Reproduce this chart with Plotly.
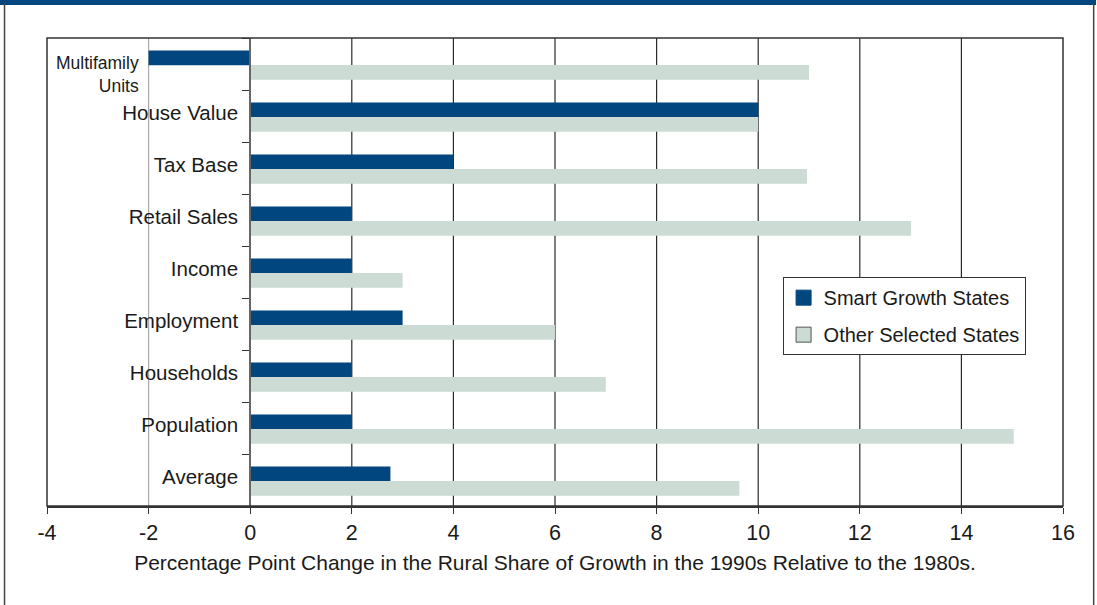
import plotly.graph_objects as go

# Rural share of growth, 1990s vs 1980s (percentage points)
categories = ["Multifamily Units", "House Value", "Tax Base", "Retail Sales",
              "Income", "Employment", "Households", "Population", "Average"]
smart_growth = [-2, 10, 4, 2, 2, 3, 2, 2, 2.76]
other_states = [11, 10, 10.96, 13.01, 3, 6, 7, 15.03, 9.63]

series_names = ["Smart Growth States", "Other Selected States"]
x_ticks = list(range(-4, 17, 2))

DARK = "#02467f"
LIGHT = "#ccdbd3"
FONT = "Liberation Sans"

fig = go.Figure()

fig.add_trace(go.Bar(
    y=categories, x=smart_growth, orientation="h",
    marker=dict(color=DARK, line=dict(width=0)),
    offset=-0.26, width=0.283, showlegend=False, name=series_names[0],
))
fig.add_trace(go.Bar(
    y=categories, x=other_states, orientation="h",
    marker=dict(color=LIGHT, line=dict(width=0)),
    offset=0.02, width=0.283, showlegend=False, name=series_names[1],
))

# legend keys as square markers
for name, col, lc in [(series_names[0], DARK, DARK), (series_names[1], LIGHT, "#555555")]:
    fig.add_trace(go.Scatter(
        x=[None], y=[None], mode="markers", name=name, legendgroup=name,
        marker=dict(symbol="square", size=15, color=col, line=dict(color=lc, width=1)),
    ))

# vertical gridlines
shapes = []
for v in x_ticks[1:-1]:
    if v == 0:
        continue
    shapes.append(dict(type="line", xref="x", yref="paper", x0=v, x1=v, y0=0, y1=1,
                       line=dict(color="#aaaaaa" if v < 0 else "#2a2a2a", width=1.2),
                       layer="below"))
# plot-area frame
shapes.append(dict(type="rect", xref="paper", yref="paper", x0=0, x1=1, y0=0, y1=1,
                   line=dict(color="#333333", width=1.5), layer="above"))
# outer panel: top band and side rules
shapes.append(dict(type="rect", xref="paper", yref="paper",
                   x0=-0.0465, x1=1.0325, y0=1.0705, y1=1.0825,
                   fillcolor=DARK, line=dict(width=0), layer="above"))
shapes.append(dict(type="line", xref="paper", yref="paper",
                   x0=-0.0418, x1=-0.0418, y0=-0.22, y1=1.075,
                   line=dict(color="#444444", width=1.5)))
shapes.append(dict(type="line", xref="paper", yref="paper",
                   x0=1.0302, x1=1.0302, y0=-0.22, y1=1.075,
                   line=dict(color="#444444", width=1.5)))

ticktext = [""] + categories[1:]

fig.update_layout(
    width=1097, height=605,
    margin=dict(l=47, r=34, t=38, b=99),
    paper_bgcolor="white", plot_bgcolor="white",
    barmode="overlay",
    font=dict(family=FONT, color="#1a1a1a", size=20),
    shapes=shapes,
    showlegend=True,
    legend=dict(
        x=0.724, y=0.489, xanchor="left", yanchor="top",
        bgcolor="white", bordercolor="#333333", borderwidth=1,
        font=dict(family=FONT, size=20, color="#1a1a1a"),
        tracegroupgap=8, traceorder="grouped",
    ),
    xaxis=dict(
        range=[-4, 16], tickvals=x_ticks, ticktext=[str(v) for v in x_ticks],
        showgrid=False, zeroline=False,
        showline=True, linecolor="#333333", linewidth=1.5,
        ticks="outside", ticklen=6, tickcolor="#333333", tickwidth=1.2,
        tickfont=dict(size=21.5, family=FONT, color="#1a1a1a"),
        title=dict(text="Percentage Point Change in the Rural Share of Growth in the 1990s Relative to the 1980s.",
                   font=dict(size=21, family=FONT, color="#1a1a1a"), standoff=12),
        domain=[0, 1],
    ),
    yaxis=dict(
        type="category", categoryorder="array", categoryarray=categories,
        range=[len(categories) - 0.5, -0.5],
        tickvals=categories, ticktext=ticktext,
        anchor="free", position=0.2,
        showline=True, linecolor="#666666", linewidth=2,
        ticks="outside", tickson="boundaries", ticklen=7, tickcolor="#333333", tickwidth=1.2,
        ticklabelstandoff=7, ticklabelshift=3,
        showgrid=False, zeroline=False,
        tickfont=dict(size=20.5, family=FONT, color="#1a1a1a"),
    ),
)

# the first category label sits left of its negative bar
first = categories[0].split(" ")
fig.add_annotation(
    xref="paper", yref="y", x=0.0925, y=categories[0], xanchor="right", yanchor="middle",
    text="<br>".join(first), showarrow=False, align="right", yshift=-10,
    font=dict(size=17.5, family=FONT, color="#1a1a1a"),
)

fig.write_html("out.html")
